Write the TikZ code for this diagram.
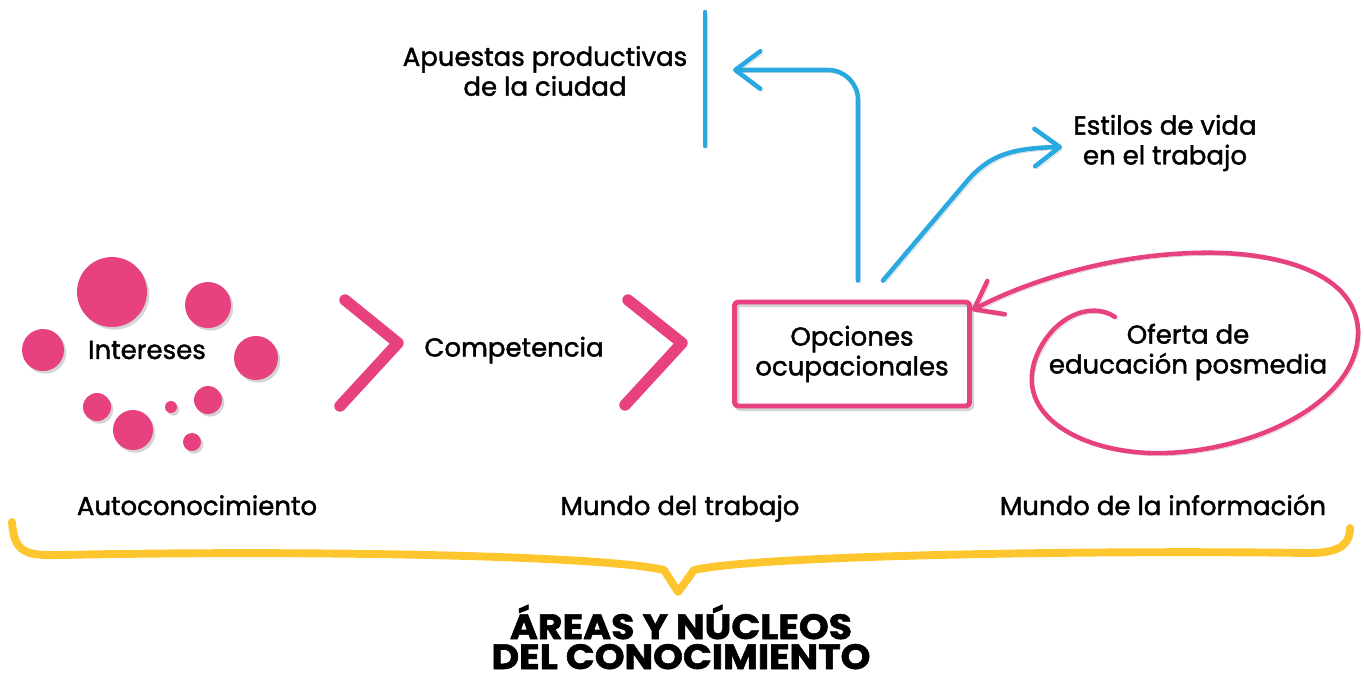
\documentclass[tikz,border=0pt]{standalone}
\usepackage{fontspec}
\setmainfont{Poppins}[FakeBold=1.6]
\usetikzlibrary{arrows.meta,positioning}
\definecolor{rosa}{HTML}{E8417F}
\definecolor{celeste}{HTML}{2AA9E0}
\definecolor{amarillo}{HTML}{FDC62F}
\definecolor{sombra}{gray}{0.83}

\begin{document}
\begin{tikzpicture}[x=0.02cm,y=-0.02cm,line cap=round,line join=round,
  >={Straight Barb[length=5mm,width=7.5mm,line cap=round,line join=round]},
  txt/.style={font=\fontsize{14.8}{17}\selectfont,align=center,inner sep=0pt},
  titulo/.style={font=\fontsize{20}{20}\selectfont\bfseries,inner sep=0pt,xscale=1.08},
  sombreado/.style={preaction={draw=sombra,transform canvas={shift={(1.3pt,-1.5pt)}}}},
  burbuja/.style={fill=rosa,preaction={fill=sombra,transform canvas={shift={(1.3pt,-1.5pt)}}}},
  chevron/.style={draw=rosa,line width=6.5pt,sombreado},
  caja/.style={txt,draw=rosa,line width=2.8pt,rounded corners=2pt,sombreado,
    minimum width=4.7cm,minimum height=2.08cm},
  flecha/.style={->,draw=celeste,line width=2.6pt,sombreado},
  lazo/.style={->,draw=rosa,line width=2.6pt,sombreado},
  llave/.style={draw=amarillo,line width=4.5pt,sombreado}]
  \useasboundingbox (0,0) rectangle (1364,681);

  % intereses
  \foreach \cx/\cy/\r in {112/292/35, 208/305/23, 43/350/21, 256/358/22,
      97/407/14, 133/430/20, 171/407/6, 208/400/14, 192/442/9}
    \fill[burbuja] (\cx,\cy) circle (\r);
  \node[txt] (int) at (147,350) {Intereses};

  \draw[chevron] (345,300) -- (398,343) -- (340,406);
  \node[txt] (comp) at (514,350) {Competencia};
  \draw[chevron] (628,300) -- (682,343) -- (625,405);

  \node[caja] (opc) at (852,354) {Opciones\\ocupacionales};
  \node[txt] (ofe) at (1188,352) {Oferta de\\educación posmedia};

  \node[txt] (apu) at (545,71) {Apuestas productivas\\de la ciudad};
  \node[txt] (est) at (1165,143) {Estilos de vida\\en el trabajo};
  \draw[draw=celeste,line width=2.6pt,sombreado] (705,12) -- (705,146);
  \coordinate (apuE) at (733,70);
  \coordinate (estW) at (1062,147);
  \coordinate (gancho) at (1115,317);

  \draw[flecha,rounded corners=0.6cm] ([xshift=0.12cm,yshift=0.38cm]opc.north) |- (apuE);
  \draw[flecha] ([xshift=0.62cm,yshift=0.38cm]opc.north) -- (968,180)
    .. controls (990,155) and (1012,148) .. (estW);
  \draw[lazo] (gancho) .. controls (1090,300) and (1050,318) .. (1035,360)
    .. controls (1015,420) and (1090,456) .. (1167,453)
    .. controls (1260,449) and (1360,400) .. (1358,330)
    .. controls (1355,270) and (1270,250) .. (1193,253)
    .. controls (1100,256) and (1020,285) .. (opc.20);

  % areas
  \node[txt,anchor=base] (auto) at (197,515) {Autoconocimiento};
  \node[txt,anchor=base] (mtra) at (680,515) {Mundo del trabajo};
  \node[txt,anchor=base] (minf) at (1163,515) {Mundo de la información};
  \draw[llave] (12,522) .. controls (14,552) and (25,556) .. (60,555)
    .. controls (300,550) and (600,555) .. (664,570) -- (678,592) -- (694,570)
    .. controls (760,555) and (1100,550) .. (1310,553)
    .. controls (1345,553) and (1350,540) .. (1350,528);
  \node[titulo,anchor=base] (tit1) at (681,639) {ÁREAS Y NÚCLEOS};
  \node[titulo,anchor=base,below=0.6cm of tit1.base,anchor=base] (tit2) {DEL CONOCIMIENTO};
\end{tikzpicture}
\end{document}
